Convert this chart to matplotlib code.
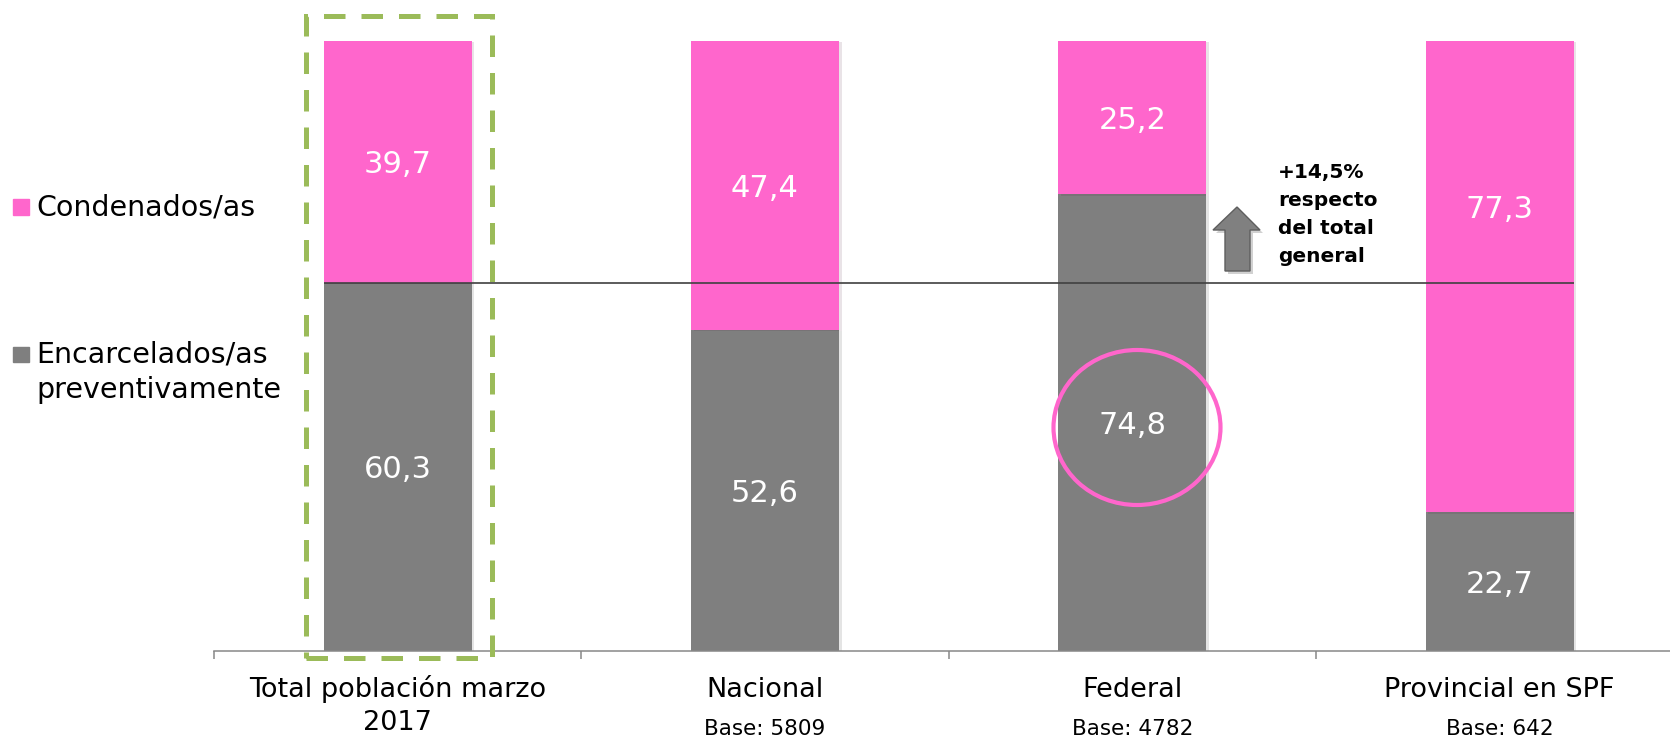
import matplotlib
matplotlib.use("Agg")
import matplotlib.pyplot as plt
from matplotlib.patches import Rectangle, Ellipse, Polygon
from matplotlib import transforms as mtransforms
from matplotlib import patheffects as pe

# ---- data ----
categories = ["Total población marzo\n2017", "Nacional", "Federal", "Provincial en SPF"]
bases = ["", "Base: 5809", "Base: 4782", "Base: 642"]
preventivos = [60.3, 52.6, 74.8, 22.7]
condenados = [39.7, 47.4, 25.2, 77.3]
series_names = ["Condenados/as", "Encarcelados/as\npreventivamente"]
annotation = ["+14,5%", "respecto", "del total", "general"]

PINK = "#FF66CC"
GRAY = "#7F7F7F"
GREEN = "#9BBB59"
W, H = 1670, 737

fig = plt.figure(figsize=(W / 100, H / 100), dpi=100)
plt.rcParams["font.family"] = ["DejaVu Sans"]

# axes placement (pixel-based)
ax_left, ax_right = 214, 214 + 4 * 367.3
ax_bottom, ax_top = 651, 40.5
ax = fig.add_axes([ax_left / W, (H - ax_bottom) / H,
                   (ax_right - ax_left) / W, (ax_bottom - ax_top) / H])
ax.set_xlim(-0.5, 3.5)
ax.set_ylim(0, 100)

# pixel transform for decorations (reference pixel coordinates, origin top-left)
pxT = mtransforms.Affine2D().scale(1 / W, -1 / H).translate(0, 1) + fig.transFigure
xdata_ypx = mtransforms.blended_transform_factory(ax.transData, pxT)
down = mtransforms.offset_copy(ax.transData, fig=fig, x=0, y=-2.2, units="points")

x = list(range(len(categories)))
bw = 0.403
shadow = [pe.SimplePatchShadow(offset=(2, -1), alpha=0.12), pe.Normal()]
b1 = ax.bar(x, preventivos, width=bw, color=GRAY, zorder=2)
b2 = ax.bar(x, condenados, width=bw, bottom=preventivos, color=PINK, zorder=2)
for r in list(b1) + list(b2):
    r.set_path_effects(shadow)

# value labels
for i in x:
    ax.text(i, preventivos[i] / 2, f"{preventivos[i]:.1f}".replace(".", ","),
            transform=down, ha="center", va="center", color="white",
            fontsize=22, zorder=5)
    ypos = preventivos[i] + condenados[i] / 2
    if i == 3:
        ypos = 72.8
    ax.text(i, ypos, f"{condenados[i]:.1f}".replace(".", ","),
            transform=down, ha="center", va="center", color="white",
            fontsize=22, zorder=5)

# reference line at total preventive value
ax.hlines(preventivos[0], x[0] - bw / 2, x[-1] + bw / 2, color="#404040",
          lw=1.2, zorder=4)

# axes styling
for s in ["top", "right", "left"]:
    ax.spines[s].set_visible(False)
ax.spines["bottom"].set_color("#878787")
ax.spines["bottom"].set_linewidth(1.1)
ax.set_yticks([])
ax.set_xticks([-0.5, 0.5, 1.5, 2.5, 3.5])
ax.set_xticklabels([])
ax.tick_params(axis="x", direction="out", length=6, width=1.1, color="#878787")

# category labels
for i, cat in enumerate(categories):
    lines = cat.split("\n")
    for j, ln in enumerate(lines):
        ax.text(i, 697 + 33 * j, ln, transform=xdata_ypx, ha="center",
                va="baseline", fontsize=19.5, color="black", clip_on=False)
    if bases[i]:
        ax.text(i, 735, bases[i], transform=xdata_ypx, ha="center",
                va="baseline", fontsize=15.5, color="black", clip_on=False)

# legend (manual)
fig.add_artist(Rectangle((13, 215), 16, -16, transform=pxT, color=PINK))
fig.text(36, 216, series_names[0], transform=pxT, fontsize=20.5, va="baseline")
fig.add_artist(Rectangle((13, 362), 16, -15, transform=pxT, color=GRAY))
leg2 = series_names[1].split("\n")
fig.text(36, 363, leg2[0], transform=pxT, fontsize=20.5, va="baseline")
fig.text(36, 398, leg2[1], transform=pxT, fontsize=20.5, va="baseline")

# green dashed highlight box
rect = Rectangle((306, 658), 186, -642, transform=pxT, fill=False,
                 edgecolor=GREEN, lw=3.6, linestyle=(0, (4.3, 3.2)),
                 joinstyle="miter")
fig.add_artist(rect)

# pink circle
fig.add_artist(Ellipse((1137, 427.5), 167, 155, transform=pxT, fill=False,
                       edgecolor=PINK, lw=3.0))

# up arrow
arrow_pts = [(1237, 207), (1260, 230), (1250, 230), (1250, 271),
             (1225, 271), (1225, 230), (1213, 230)]
fig.add_artist(Polygon([(a + 3, b + 3) for a, b in arrow_pts], transform=pxT,
                       closed=True, facecolor="#000000", alpha=0.18, lw=0))
fig.add_artist(Polygon(arrow_pts, transform=pxT, closed=True,
                       facecolor="#808080", edgecolor="#5E5E5E", lw=1.0))

# annotation text
for k, ln in enumerate(annotation):
    fig.text(1278, 178 + 28 * k, ln, transform=pxT, fontsize=14.5,
             fontweight="bold", va="baseline", color="black")

fig.savefig("out.png", dpi=100)
